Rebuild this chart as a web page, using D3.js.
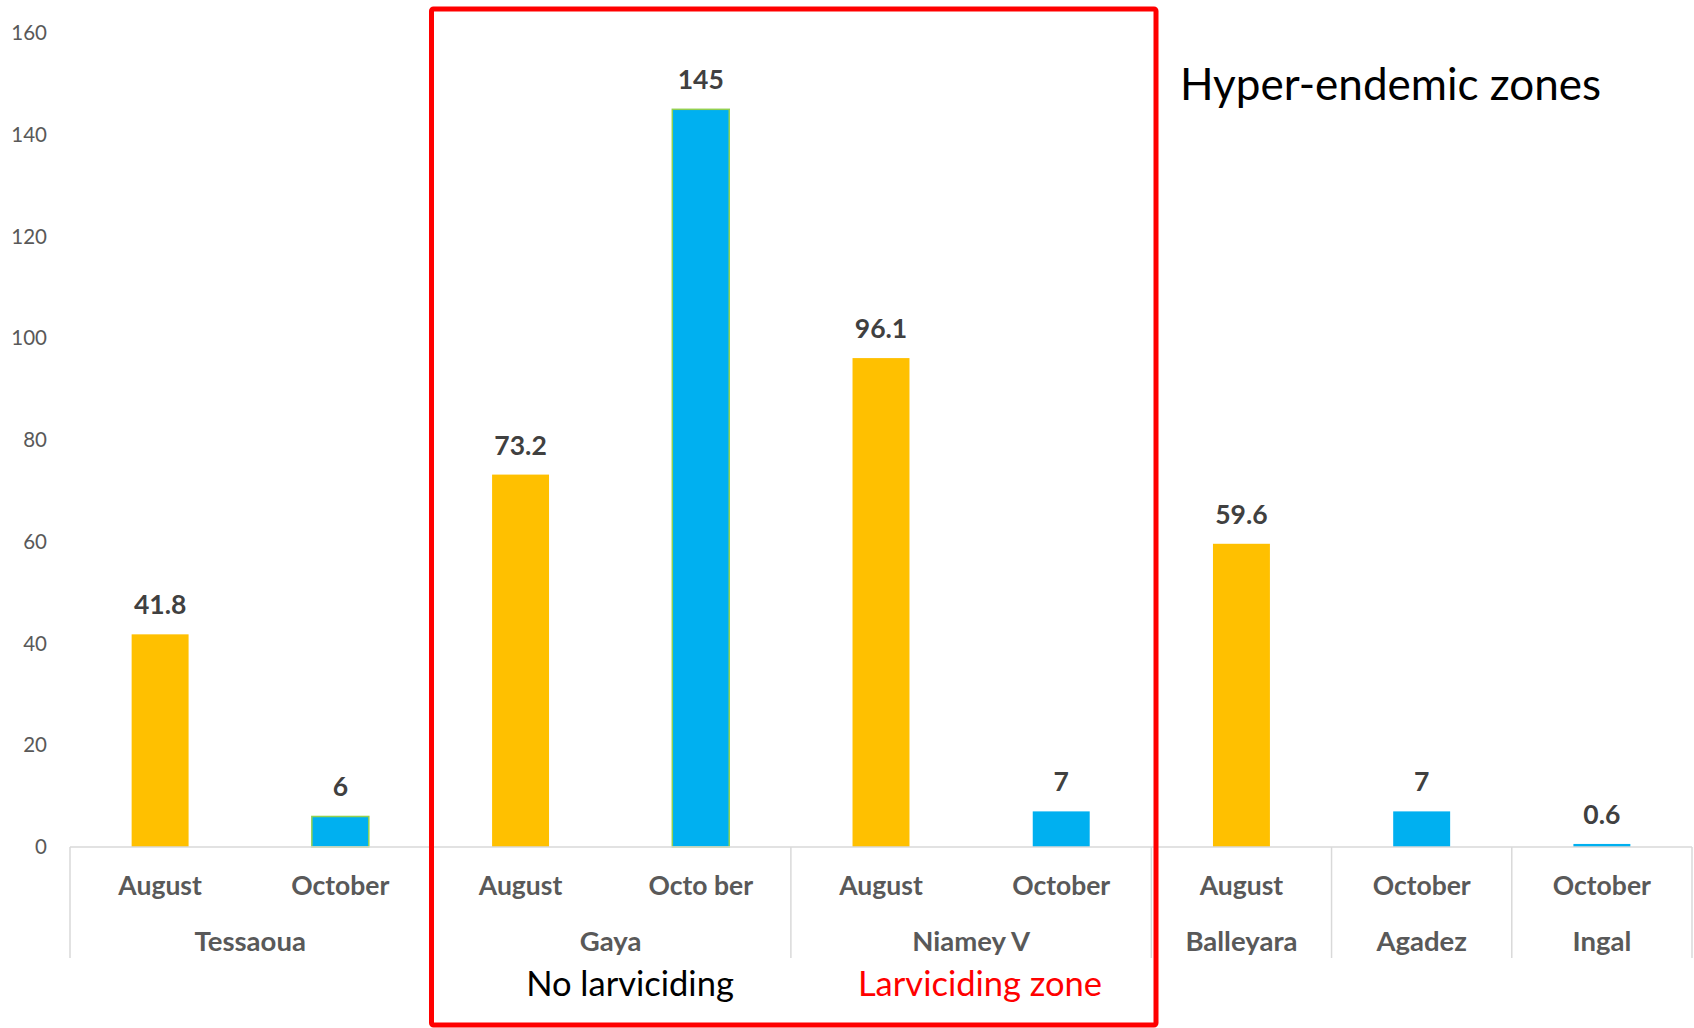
<!DOCTYPE html>
<html>
<head>
<meta charset="utf-8">
<script src="https://cdn.jsdelivr.net/npm/d3@7"></script>
<style>
  html, body { margin: 0; padding: 0; background: #ffffff; }
  svg { display: block; }
  text { font-family: Lato, "Open Sans", sans-serif; }
</style>
</head>
<body>
<svg id="chart" width="1694" height="1028"></svg>
<script>
// Bars, left to right
const months = ["August", "October", "August", "Octo ber", "August", "October", "August", "October", "October"];
const barDistricts = ["Tessaoua", "Tessaoua", "Gaya", "Gaya", "Niamey V", "Niamey V", "Balleyara", "Agadez", "Ingal"];
const values = [41.8, 6, 73.2, 145, 96.1, 7, 59.6, 7, 0.6];
const outlined = [false, true, false, true, false, false, false, false, false];
const districts = ["Tessaoua", "Gaya", "Niamey V", "Balleyara", "Agadez", "Ingal"];
const yTicks = [0, 20, 40, 60, 80, 100, 120, 140, 160];

const monthColor = { August: "#FFC000", October: "#00B0F0" };
const colorOf = m => m.startsWith("Octo") ? monthColor.October : monthColor.August;

const svg = d3.select("#chart");
const plotLeft = 70, plotRight = 1692, plotTop = 33, plotBase = 847;

const x = d3.scaleBand()
  .domain(d3.range(values.length))
  .range([plotLeft, plotRight])
  .paddingInner(0.684)
  .paddingOuter(0.342);
const step = x.step();
const y = d3.scaleLinear().domain([0, 160]).range([plotBase, plotTop]);

// Value axis (labels only)
const yAxis = svg.append("g")
  .attr("transform", `translate(${plotLeft},0)`)
  .call(d3.axisLeft(y).tickValues(yTicks).tickSize(0).tickPadding(23));
yAxis.select(".domain").remove();
yAxis.selectAll("text")
  .attr("fill", "#595959")
  .style("font-size", "20.5px")
  .style("font-family", "Lato, sans-serif");

// Bars
svg.append("g").selectAll("rect")
  .data(values)
  .join("rect")
  .attr("x", (d, i) => x(i))
  .attr("y", d => y(d))
  .attr("width", x.bandwidth())
  .attr("height", d => plotBase - y(d))
  .attr("fill", (d, i) => colorOf(months[i]))
  .attr("stroke", (d, i) => outlined[i] ? "#92D050" : "none")
  .attr("stroke-width", 1.5);

// Value labels
svg.append("g").selectAll("text")
  .data(values)
  .join("text")
  .attr("x", (d, i) => x(i) + x.bandwidth() / 2)
  .attr("y", d => y(d) - 20)
  .attr("text-anchor", "middle")
  .attr("fill", "#404040")
  .style("font-size", "26.5px")
  .style("font-weight", "bold")
  .text(d => d);

// Category axis line
svg.append("line")
  .attr("x1", plotLeft).attr("x2", plotRight)
  .attr("y1", plotBase).attr("y2", plotBase)
  .attr("stroke", "#d9d9d9").attr("stroke-width", 1.5);

// District groups and separators
const groups = districts.map(name => {
  const idx = barDistricts.map((d, i) => d === name ? i : -1).filter(i => i >= 0);
  return { name, start: d3.min(idx), end: d3.max(idx) + 1 };
});
const boundaries = [0, ...groups.map(g => g.end)];
svg.append("g").selectAll("line")
  .data(boundaries)
  .join("line")
  .attr("x1", b => plotLeft + b * step).attr("x2", b => plotLeft + b * step)
  .attr("y1", plotBase).attr("y2", 958)
  .attr("stroke", "#d9d9d9").attr("stroke-width", 1.5);

// Month labels
svg.append("g").selectAll("text")
  .data(months)
  .join("text")
  .attr("x", (d, i) => x(i) + x.bandwidth() / 2)
  .attr("y", 895)
  .attr("text-anchor", "middle")
  .attr("fill", "#595959")
  .style("font-size", "26.5px")
  .style("font-weight", "bold")
  .text(d => d);

// District labels
svg.append("g").selectAll("text")
  .data(groups)
  .join("text")
  .attr("x", g => plotLeft + (g.start + g.end) / 2 * step)
  .attr("y", 951)
  .attr("text-anchor", "middle")
  .attr("fill", "#595959")
  .style("font-size", "27.5px")
  .style("font-weight", "bold")
  .text(g => g.name);

// Highlight frame around Gaya and Niamey V
svg.append("rect")
  .attr("x", 431.5).attr("y", 9)
  .attr("width", 1156 - 431.5).attr("height", 1025 - 9)
  .attr("rx", 2)
  .attr("fill", "none")
  .attr("stroke", "#FF0000")
  .attr("stroke-width", 5);

svg.append("text")
  .attr("x", 630).attr("y", 996)
  .attr("text-anchor", "middle")
  .attr("fill", "#000000")
  .style("font-size", "34.5px")
  .text("No larviciding");

svg.append("text")
  .attr("x", 980).attr("y", 996)
  .attr("text-anchor", "middle")
  .attr("fill", "#FF0000")
  .style("font-size", "34.5px")
  .text("Larviciding zone");

svg.append("text")
  .attr("x", 1180).attr("y", 100)
  .attr("fill", "#000000")
  .style("font-size", "44px")
  .text("Hyper-endemic zones");
</script>
</body>
</html>
